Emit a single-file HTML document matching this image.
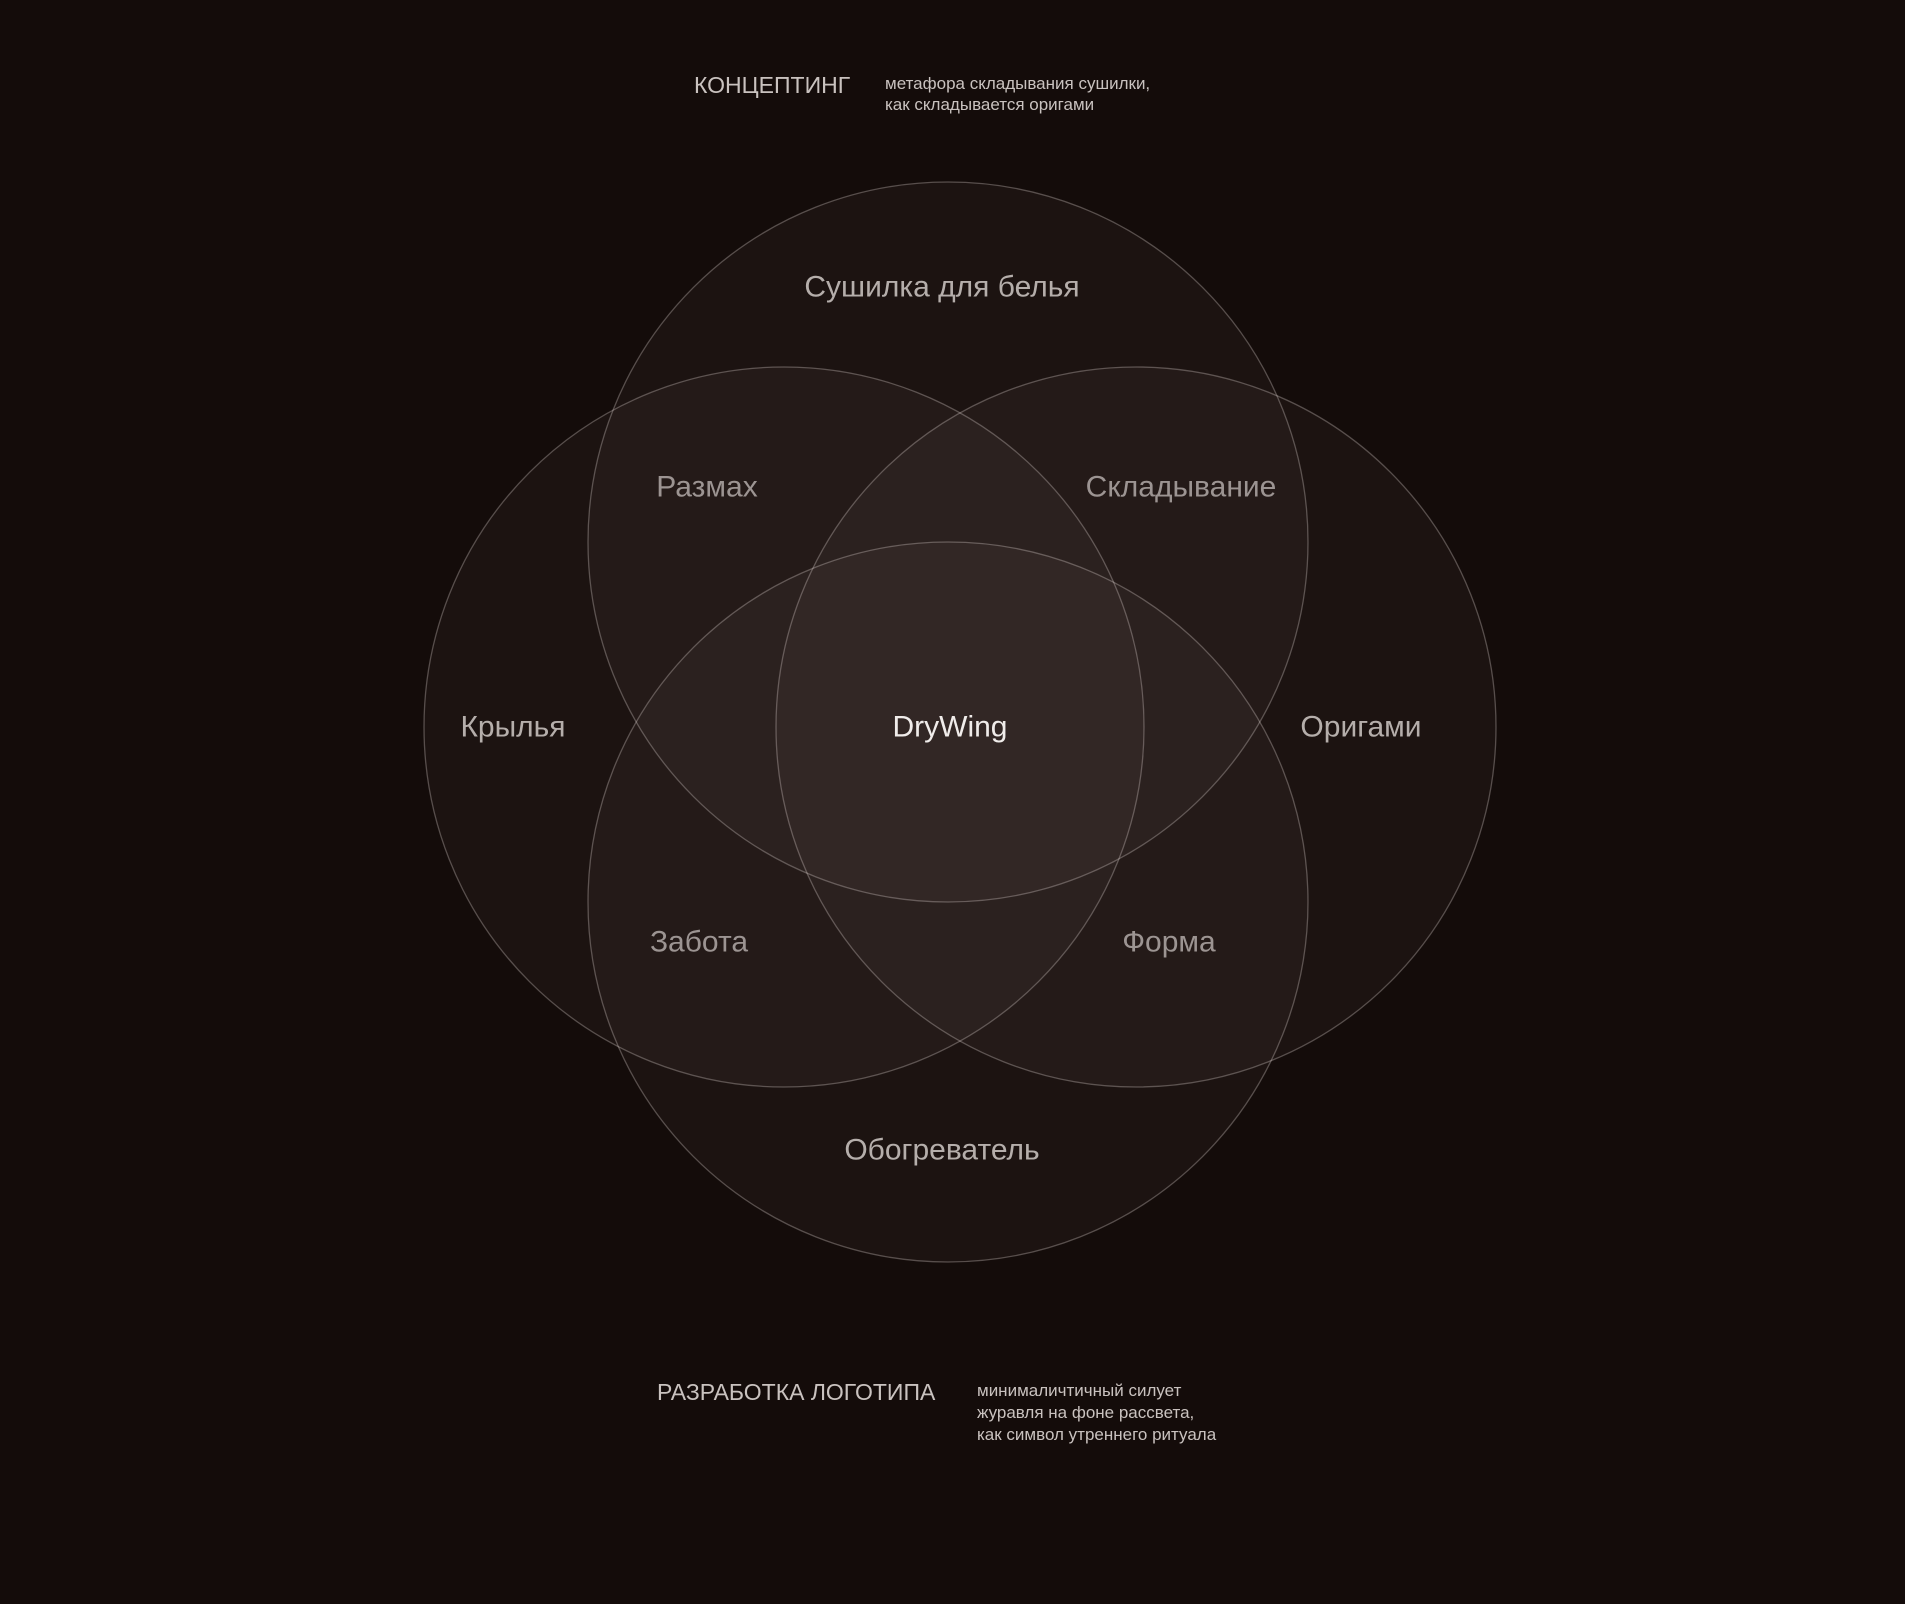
<!DOCTYPE html>
<html><head><meta charset="utf-8"><style>
html,body{margin:0;padding:0;background:#140c0a;}
body{width:1905px;height:1599px;overflow:hidden;}
</style></head><body>
<svg width="1905" height="1599" viewBox="0 0 1905 1599" xmlns="http://www.w3.org/2000/svg" font-family="Liberation Sans, DejaVu Sans, sans-serif">
<rect width="1905" height="1599" fill="#140c0a"/>
<g fill="rgba(255,228,222,0.035)" stroke="rgba(255,245,240,0.28)" stroke-width="1.3">
<circle cx="948" cy="542" r="360"/>
<circle cx="784" cy="727" r="360"/>
<circle cx="1136" cy="727" r="360"/>
<circle cx="948" cy="902" r="360"/>
</g>
<g fill="#b5aeab" font-size="30" text-anchor="middle" dominant-baseline="central">
<text x="942" y="287">Сушилка для белья</text>
<text x="707" y="487" fill="#9c9492">Размах</text>
<text x="1181" y="487" fill="#9c9492">Складывание</text>
<text x="513" y="727">Крылья</text>
<text x="950" y="727" fill="#f0ecea">DryWing</text>
<text x="1361" y="727">Оригами</text>
<text x="699" y="942" fill="#9c9492">Забота</text>
<text x="1169" y="942" fill="#9c9492">Форма</text>
<text x="942" y="1150">Обогреватель</text>
</g>
<g fill="#c9c2bf">
<text x="694" y="93" font-size="23">КОНЦЕПТИНГ</text>
<text x="885" y="89" font-size="17">метафора складывания сушилки,</text>
<text x="885" y="110" font-size="17">как складывается оригами</text>
<text x="657" y="1400" font-size="23">РАЗРАБОТКА ЛОГОТИПА</text>
<text x="977" y="1396" font-size="17">минималичтичный силует</text>
<text x="977" y="1418" font-size="17">журавля на фоне рассвета,</text>
<text x="977" y="1440" font-size="17">как символ утреннего ритуала</text>
</g>
</svg>
</body></html>
